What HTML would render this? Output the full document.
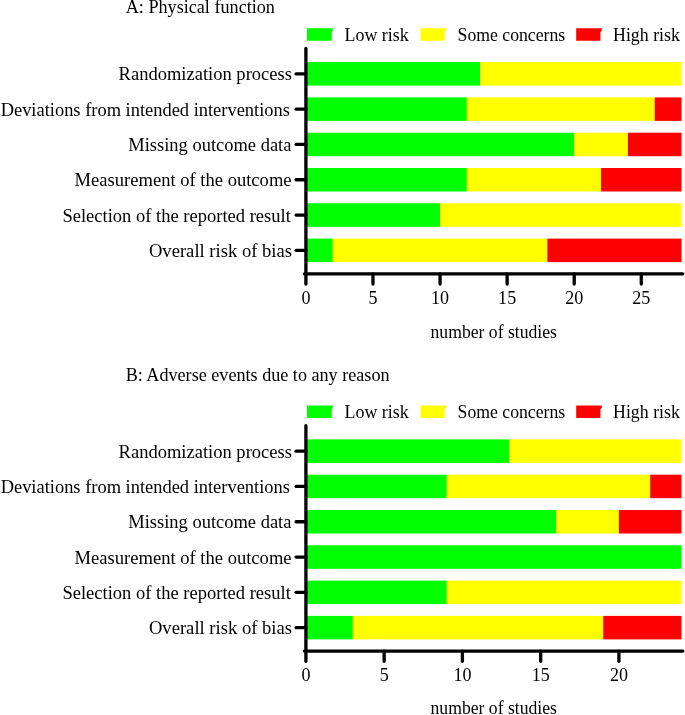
<!DOCTYPE html>
<html><head><meta charset="utf-8"><title>Risk of bias</title>
<style>
html,body{margin:0;padding:0;background:#fff;}
svg{display:block;}
.t{font-family:"Liberation Serif","Times New Roman",serif;fill:#000;}
.ax{stroke:#000;stroke-width:3.3;stroke-linecap:round;fill:none;}
</style></head>
<body>
<svg width="685" height="715" viewBox="0 0 685 715">
<rect width="685" height="715" fill="#fff"/>
<path d="M307 28.3 L332.9 28.3 L332.9 30.7 L331.8 31.9 L331.8 40.7 L307 40.7 Z" fill="#00ff00"/>
<path d="M420.5 28.3 L446.1 28.3 L446.1 30.7 L444.7 31.9 L444.7 40.7 L420.5 40.7 Z" fill="#ffff00"/>
<path d="M576.2 28.3 L601.8 28.3 L601.8 30.7 L600.4 31.9 L600.4 40.7 L576.2 40.7 Z" fill="#ff0000"/>
<rect x="305.90" y="62.10" width="174.41" height="23.5" fill="#00ff00"/>
<rect x="480.31" y="62.10" width="201.24" height="23.5" fill="#ffff00"/>
<line x1="296.1" y1="73.85" x2="305.9" y2="73.85" class="ax"/>
<rect x="305.90" y="97.40" width="160.99" height="23.5" fill="#00ff00"/>
<rect x="466.89" y="97.40" width="187.82" height="23.5" fill="#ffff00"/>
<rect x="654.72" y="97.40" width="26.83" height="23.5" fill="#ff0000"/>
<line x1="296.1" y1="109.15" x2="305.9" y2="109.15" class="ax"/>
<rect x="305.90" y="132.70" width="268.32" height="23.5" fill="#00ff00"/>
<rect x="574.22" y="132.70" width="53.66" height="23.5" fill="#ffff00"/>
<rect x="627.88" y="132.70" width="53.66" height="23.5" fill="#ff0000"/>
<line x1="296.1" y1="144.45" x2="305.9" y2="144.45" class="ax"/>
<rect x="305.90" y="168.00" width="160.99" height="23.5" fill="#00ff00"/>
<rect x="466.89" y="168.00" width="134.16" height="23.5" fill="#ffff00"/>
<rect x="601.05" y="168.00" width="80.50" height="23.5" fill="#ff0000"/>
<line x1="296.1" y1="179.75" x2="305.9" y2="179.75" class="ax"/>
<rect x="305.90" y="203.30" width="134.16" height="23.5" fill="#00ff00"/>
<rect x="440.06" y="203.30" width="241.49" height="23.5" fill="#ffff00"/>
<line x1="296.1" y1="215.05" x2="305.9" y2="215.05" class="ax"/>
<rect x="305.90" y="238.60" width="26.83" height="23.5" fill="#00ff00"/>
<rect x="332.73" y="238.60" width="214.66" height="23.5" fill="#ffff00"/>
<rect x="547.39" y="238.60" width="134.16" height="23.5" fill="#ff0000"/>
<line x1="296.1" y1="250.35" x2="305.9" y2="250.35" class="ax"/>
<line x1="305.9" y1="48.4" x2="305.9" y2="273.8" class="ax"/>
<line x1="304.4" y1="273.8" x2="682.8" y2="273.8" class="ax"/>
<line x1="305.90" y1="273.8" x2="305.90" y2="284.0" class="ax"/>
<text x="305.90" y="303.7" class="t" font-size="19.2" text-anchor="middle" textLength="9.02" lengthAdjust="spacingAndGlyphs">0</text>
<line x1="372.98" y1="273.8" x2="372.98" y2="284.0" class="ax"/>
<text x="372.98" y="303.7" class="t" font-size="19.2" text-anchor="middle" textLength="9.02" lengthAdjust="spacingAndGlyphs">5</text>
<line x1="440.06" y1="273.8" x2="440.06" y2="284.0" class="ax"/>
<text x="440.06" y="303.7" class="t" font-size="19.2" text-anchor="middle" textLength="18.05" lengthAdjust="spacingAndGlyphs">10</text>
<line x1="507.14" y1="273.8" x2="507.14" y2="284.0" class="ax"/>
<text x="507.14" y="303.7" class="t" font-size="19.2" text-anchor="middle" textLength="18.05" lengthAdjust="spacingAndGlyphs">15</text>
<line x1="574.22" y1="273.8" x2="574.22" y2="284.0" class="ax"/>
<text x="574.22" y="303.7" class="t" font-size="19.2" text-anchor="middle" textLength="18.05" lengthAdjust="spacingAndGlyphs">20</text>
<line x1="641.30" y1="273.8" x2="641.30" y2="284.0" class="ax"/>
<text x="641.30" y="303.7" class="t" font-size="19.2" text-anchor="middle" textLength="18.05" lengthAdjust="spacingAndGlyphs">25</text>
<path d="M307 405.6 L332.9 405.6 L332.9 408.0 L331.8 409.2 L331.8 418.0 L307 418.0 Z" fill="#00ff00"/>
<path d="M420.5 405.6 L446.1 405.6 L446.1 408.0 L444.7 409.2 L444.7 418.0 L420.5 418.0 Z" fill="#ffff00"/>
<path d="M576.2 405.6 L601.8 405.6 L601.8 408.0 L600.4 409.2 L600.4 418.0 L576.2 418.0 Z" fill="#ff0000"/>
<rect x="305.90" y="439.40" width="203.45" height="23.5" fill="#00ff00"/>
<rect x="509.35" y="439.40" width="172.15" height="23.5" fill="#ffff00"/>
<line x1="296.1" y1="451.15" x2="305.9" y2="451.15" class="ax"/>
<rect x="305.90" y="474.70" width="140.85" height="23.5" fill="#00ff00"/>
<rect x="446.75" y="474.70" width="203.45" height="23.5" fill="#ffff00"/>
<rect x="650.20" y="474.70" width="31.30" height="23.5" fill="#ff0000"/>
<line x1="296.1" y1="486.45" x2="305.9" y2="486.45" class="ax"/>
<rect x="305.90" y="510.00" width="250.40" height="23.5" fill="#00ff00"/>
<rect x="556.30" y="510.00" width="62.60" height="23.5" fill="#ffff00"/>
<rect x="618.90" y="510.00" width="62.60" height="23.5" fill="#ff0000"/>
<line x1="296.1" y1="521.75" x2="305.9" y2="521.75" class="ax"/>
<rect x="305.90" y="545.30" width="375.60" height="23.5" fill="#00ff00"/>
<line x1="296.1" y1="557.05" x2="305.9" y2="557.05" class="ax"/>
<rect x="305.90" y="580.60" width="140.85" height="23.5" fill="#00ff00"/>
<rect x="446.75" y="580.60" width="234.75" height="23.5" fill="#ffff00"/>
<line x1="296.1" y1="592.35" x2="305.9" y2="592.35" class="ax"/>
<rect x="305.90" y="615.90" width="46.95" height="23.5" fill="#00ff00"/>
<rect x="352.85" y="615.90" width="250.40" height="23.5" fill="#ffff00"/>
<rect x="603.25" y="615.90" width="78.25" height="23.5" fill="#ff0000"/>
<line x1="296.1" y1="627.65" x2="305.9" y2="627.65" class="ax"/>
<line x1="305.9" y1="425.7" x2="305.9" y2="651.1" class="ax"/>
<line x1="304.4" y1="651.1" x2="682.8" y2="651.1" class="ax"/>
<line x1="305.90" y1="651.1" x2="305.90" y2="661.3000000000001" class="ax"/>
<text x="305.90" y="681.0" class="t" font-size="19.2" text-anchor="middle" textLength="9.02" lengthAdjust="spacingAndGlyphs">0</text>
<line x1="384.15" y1="651.1" x2="384.15" y2="661.3000000000001" class="ax"/>
<text x="384.15" y="681.0" class="t" font-size="19.2" text-anchor="middle" textLength="9.02" lengthAdjust="spacingAndGlyphs">5</text>
<line x1="462.40" y1="651.1" x2="462.40" y2="661.3000000000001" class="ax"/>
<text x="462.40" y="681.0" class="t" font-size="19.2" text-anchor="middle" textLength="18.05" lengthAdjust="spacingAndGlyphs">10</text>
<line x1="540.65" y1="651.1" x2="540.65" y2="661.3000000000001" class="ax"/>
<text x="540.65" y="681.0" class="t" font-size="19.2" text-anchor="middle" textLength="18.05" lengthAdjust="spacingAndGlyphs">15</text>
<line x1="618.90" y1="651.1" x2="618.90" y2="661.3000000000001" class="ax"/>
<text x="618.90" y="681.0" class="t" font-size="19.2" text-anchor="middle" textLength="18.05" lengthAdjust="spacingAndGlyphs">20</text>
<text id="Aleg0" x="344.54" y="40.80" class="t" font-size="19.3" textLength="64.15" lengthAdjust="spacingAndGlyphs">Low risk</text>
<text id="Aleg1" x="457.55" y="40.80" class="t" font-size="19.3" textLength="107.66" lengthAdjust="spacingAndGlyphs">Some concerns</text>
<text id="Aleg2" x="613.04" y="40.80" class="t" font-size="19.3" textLength="66.87" lengthAdjust="spacingAndGlyphs">High risk</text>
<text id="Alab0" x="118.55" y="80.35" class="t" font-size="18.7" textLength="173.39" lengthAdjust="spacingAndGlyphs">Randomization process</text>
<text id="Alab1" x="0.66" y="115.65" class="t" font-size="18.7" textLength="289.26" lengthAdjust="spacingAndGlyphs">Deviations from intended interventions</text>
<text id="Alab2" x="128.21" y="150.95" class="t" font-size="18.7" textLength="163.25" lengthAdjust="spacingAndGlyphs">Missing outcome data</text>
<text id="Alab3" x="74.55" y="186.25" class="t" font-size="18.7" textLength="217.01" lengthAdjust="spacingAndGlyphs">Measurement of the outcome</text>
<text id="Alab4" x="62.46" y="221.55" class="t" font-size="18.7" textLength="228.39" lengthAdjust="spacingAndGlyphs">Selection of the reported result</text>
<text id="Alab5" x="148.95" y="256.85" class="t" font-size="18.7" textLength="143.11" lengthAdjust="spacingAndGlyphs">Overall risk of bias</text>
<text id="Axt" x="430.54" y="337.60" class="t" font-size="19.0" textLength="126.42" lengthAdjust="spacingAndGlyphs">number of studies</text>
<text id="Bleg0" x="344.54" y="418.10" class="t" font-size="19.3" textLength="64.15" lengthAdjust="spacingAndGlyphs">Low risk</text>
<text id="Bleg1" x="457.55" y="418.10" class="t" font-size="19.3" textLength="107.66" lengthAdjust="spacingAndGlyphs">Some concerns</text>
<text id="Bleg2" x="613.04" y="418.10" class="t" font-size="19.3" textLength="66.87" lengthAdjust="spacingAndGlyphs">High risk</text>
<text id="Blab0" x="118.55" y="457.65" class="t" font-size="18.7" textLength="173.39" lengthAdjust="spacingAndGlyphs">Randomization process</text>
<text id="Blab1" x="0.66" y="492.95" class="t" font-size="18.7" textLength="289.26" lengthAdjust="spacingAndGlyphs">Deviations from intended interventions</text>
<text id="Blab2" x="128.21" y="528.25" class="t" font-size="18.7" textLength="163.25" lengthAdjust="spacingAndGlyphs">Missing outcome data</text>
<text id="Blab3" x="74.55" y="563.55" class="t" font-size="18.7" textLength="217.01" lengthAdjust="spacingAndGlyphs">Measurement of the outcome</text>
<text id="Blab4" x="62.46" y="598.85" class="t" font-size="18.7" textLength="228.39" lengthAdjust="spacingAndGlyphs">Selection of the reported result</text>
<text id="Blab5" x="148.95" y="634.15" class="t" font-size="18.7" textLength="143.11" lengthAdjust="spacingAndGlyphs">Overall risk of bias</text>
<text id="Bxt" x="430.54" y="713.80" class="t" font-size="19.0" textLength="126.42" lengthAdjust="spacingAndGlyphs">number of studies</text>
<text id="Atitle" x="125.70" y="13.10" class="t" font-size="18.3" textLength="149.24" lengthAdjust="spacingAndGlyphs">A: Physical function</text>
<text id="Btitle" x="125.67" y="381.20" class="t" font-size="18.8" textLength="263.88" lengthAdjust="spacingAndGlyphs">B: Adverse events due to any reason</text>
</svg>
</body></html>
